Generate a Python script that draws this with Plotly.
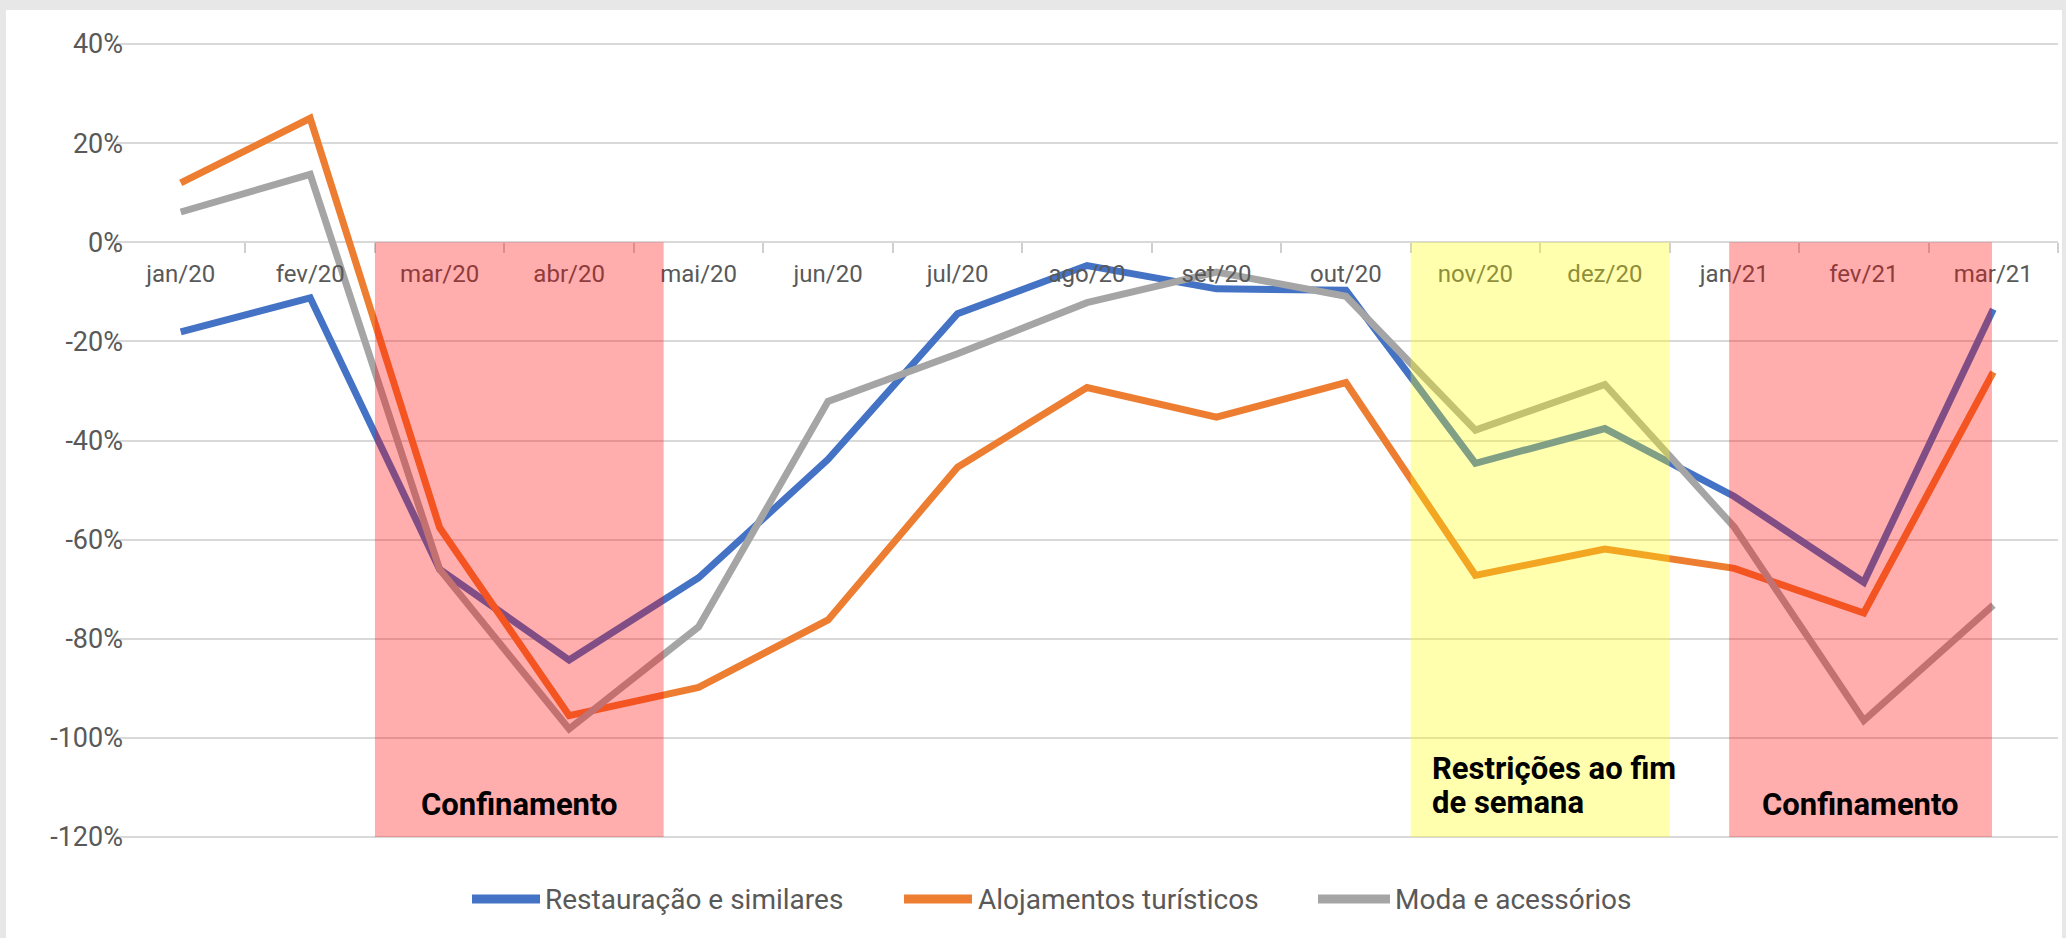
import plotly.graph_objects as go

months = ["jan/20", "fev/20", "mar/20", "abr/20", "mai/20", "jun/20", "jul/20", "ago/20",
          "set/20", "out/20", "nov/20", "dez/20", "jan/21", "fev/21", "mar/21"]

restauracao = [-18.1, -11.2, -66.0, -84.3, -67.7, -43.8, -14.4, -4.7, -9.4, -9.7,
               -44.6, -37.6, -51.3, -68.6, -13.5]
alojamentos = [12.0, 25.0, -57.6, -95.5, -89.8, -76.2, -45.4, -29.3, -35.3, -28.3,
               -67.2, -61.9, -65.8, -74.8, -26.2]
moda = [6.1, 13.7, -66.0, -98.2, -77.6, -32.1, -22.5, -12.2, -6.0, -10.9,
        -37.9, -28.7, -57.5, -96.5, -73.2]

series_names = ["Restauração e similares", "Alojamentos turísticos", "Moda e acessórios"]
series_values = [restauracao, alojamentos, moda]
series_colors = ["#4472C4", "#ED7D31", "#A5A5A5"]

# Shaded periods (category index ranges)
period_starts = [1.5, 9.5, 11.96]
period_ends = [3.73, 11.5, 13.99]
period_colors = ["rgba(255,0,0,0.32)", "rgba(255,255,0,0.32)", "rgba(255,0,0,0.32)"]

y_tickvals = [40, 20, 0, -20, -40, -60, -80, -100, -120]
y_ticktext = ["40%", "20%", "0%", "-20%", "-40%", "-60%", "-80%", "-100%", "-120%"]

fig = go.Figure()
for name, vals, col in zip(series_names, series_values, series_colors):
    fig.add_trace(go.Scatter(x=months, y=vals, mode="lines", name=name,
                             line=dict(color=col, width=7), showlegend=False))

L, R, T, B = 116, 8, 42, 99
W = 2066 - L - R
H = 938 - T - B

shapes = []
# white panel behind chart
shapes.append(dict(type="rect", xref="paper", yref="paper",
                   x0=(6 - L) / W, x1=(2062 - L) / W, y0=(938 - B - 950) / H, y1=(938 - B - 10) / H,
                   fillcolor="white", line=dict(width=0), layer="below"))
for x0, x1, c in zip(period_starts, period_ends, period_colors):
    shapes.append(dict(type="rect", xref="x", yref="y", x0=x0, x1=x1, y0=0, y1=-120,
                       fillcolor=c, line=dict(width=0), layer="above"))

annotations = []
bold_font = dict(family="Roboto", size=31, color="black")
text_items = [
    ((period_starts[0] + period_ends[0]) / 2, -113.5, "Confinamento", "center"),
    (9.65, -106.2, "Restrições ao fim", "left"),
    (9.65, -113.0, "de semana", "left"),
    ((period_starts[2] + period_ends[2]) / 2, -113.5, "Confinamento", "center"),
]
for lx, ly, txt, anc in text_items:
    annotations.append(dict(x=lx, y=ly, xref="x", yref="y", text="<b>" + txt + "</b>",
                            showarrow=False, xanchor=anc, yanchor="middle", align="left",
                            font=bold_font))

# Manual legend (long thick line symbols)
leg_sym_x0 = [472, 904, 1318]
leg_sym_x1 = [540, 972, 1390]
leg_txt_x = [543, 976, 1393]
leg_y = (938 - B - 899) / H
for sx0, sx1, tx, name, col in zip(leg_sym_x0, leg_sym_x1, leg_txt_x, series_names, series_colors):
    shapes.append(dict(type="line", xref="paper", yref="paper",
                       x0=(sx0 - L) / W, x1=(sx1 - L) / W, y0=leg_y, y1=leg_y,
                       line=dict(color=col, width=9)))
    annotations.append(dict(x=(tx - L) / W, y=leg_y, xref="paper", yref="paper", text=name,
                            showarrow=False, xanchor="left", yanchor="middle",
                            font=dict(family="Roboto", size=28, color="#595959")))

fig.update_layout(
    width=2066, height=938,
    margin=dict(l=L, r=R, t=T, b=B),
    paper_bgcolor="#e7e7e7",
    plot_bgcolor="rgba(0,0,0,0)",
    shapes=shapes,
    annotations=annotations,
    showlegend=False,
    font=dict(family="Roboto", color="#595959"),
)
fig.update_yaxes(range=[-120.4, 40.4], tickvals=y_tickvals, ticktext=y_ticktext, showgrid=True,
                 gridcolor="#d9d9d9", gridwidth=2, zeroline=False, showline=False,
                 ticks="", ticklabelstandoff=-8, tickfont=dict(family="Roboto", size=27, color="#595959"))
fig.update_xaxes(type="category", range=[-0.5, 14.5], anchor="free", position=120.4 / 160.8,
                 showgrid=False, zeroline=False, showline=False, ticks="outside",
                 tickson="boundaries", ticklen=10, tickcolor="#cfcfcf", tickwidth=2,
                 ticklabelstandoff=15, tickfont=dict(family="Roboto", size=24, color="#595959"))

fig.write_html("out.html", config={"displayModeBar": False},
               post_script="document.body.style.margin='0';document.body.style.padding='0';"
                           "document.body.style.background='#e7e7e7';")
